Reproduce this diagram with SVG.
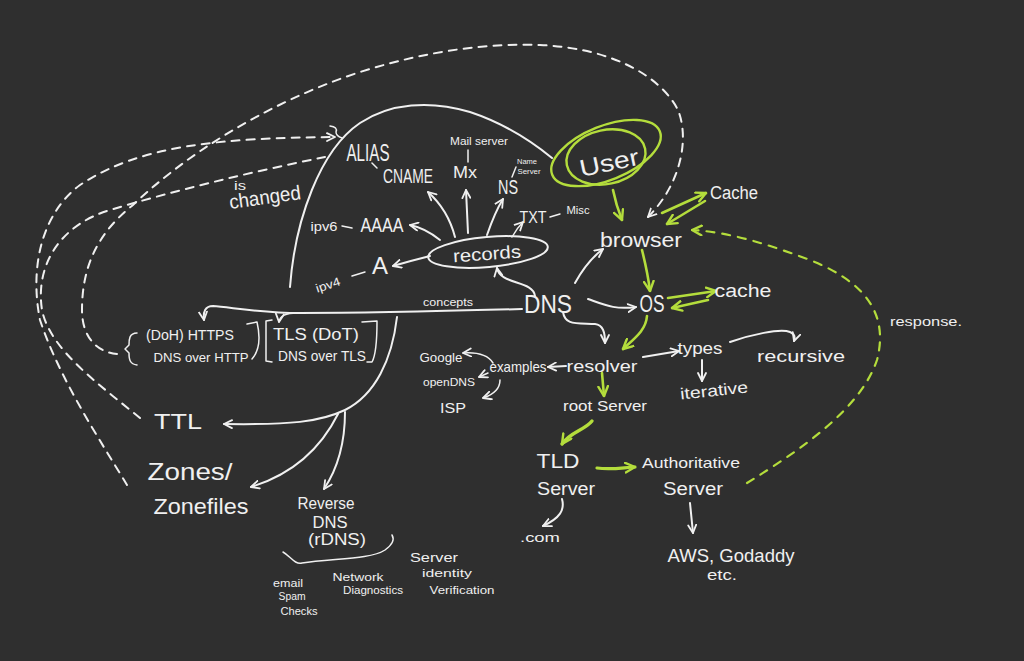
<svg xmlns="http://www.w3.org/2000/svg" width="1024" height="661" viewBox="0 0 1024 661">
<defs>
<style>
.t{font-family:"Liberation Sans",Arial,sans-serif;fill:#f0f0f0;text-anchor:middle}
.ln{fill:none;stroke:#f0f0f0;stroke-width:2;stroke-linecap:round;stroke-linejoin:round}
.thin{stroke-width:1.5}
.dash{stroke-dasharray:8 7}
.g{fill:none;stroke:#b4dd3c;stroke-width:2.6;stroke-linecap:round;stroke-linejoin:round}
.gd{stroke-dasharray:8 8;stroke-width:2.2}
</style>
<marker id="aw" viewBox="0 0 10 10" refX="9" refY="5" markerWidth="10" markerHeight="10" markerUnits="userSpaceOnUse" orient="auto">
<path d="M1,1 L9,5 L1,9" fill="none" stroke="#f0f0f0" stroke-width="1.8" stroke-linecap="round" stroke-linejoin="round"/>
</marker>
<marker id="ag" viewBox="0 0 10 10" refX="9" refY="5" markerWidth="12" markerHeight="12" markerUnits="userSpaceOnUse" orient="auto">
<path d="M1,1 L9,5 L1,9" fill="none" stroke="#b4dd3c" stroke-width="2" stroke-linecap="round" stroke-linejoin="round"/>
</marker>
</defs>
<rect width="1024" height="661" fill="#2f2f2f"/>

<g id="connectors">
<!-- dashed white loops -->
<path class="ln dash" d="M117,354 C 95,352 82,335 82,310 C 82,270 95,235 133,205 C 180,160 260,105 360,72 C 430,50 490,43 540,45 C 610,48 660,75 678,110 C 690,140 680,185 648,217" marker-end="url(#aw)"/>
<path class="ln dash" d="M127,485 C 100,440 60,380 40,320 C 30,270 40,215 80,185 C 140,145 220,138 335,137" marker-end="url(#aw)"/>
<path class="ln thin" d="M330,126 Q338,127 336,132 Q336,136 342,138"/>
<path class="ln dash" d="M140,418 C 100,385 50,350 42,310 C 35,265 60,225 110,210 C 170,192 250,172 325,157"/>
<!-- big arc -->
<path class="ln" d="M290,287 C 295,220 320,150 360,123 C 390,103 430,100 470,112 C 500,122 530,140 552,158"/>
<!-- concepts line -->
<path class="ln" d="M522,309 C 450,311 350,313 300,313 C 260,313 230,307 213,306 C 205,306 203,312 204,320" marker-end="url(#aw)"/>
<path class="ln thin" d="M297,313 Q280,313 279,322" marker-end="url(#aw)"/>
<!-- lower arc -->
<path class="ln" d="M397,317 C 392,360 375,395 345,410 C 320,422 290,425 224,424" marker-end="url(#aw)"/>
<path class="ln" d="M338,414 C 320,450 290,475 251,487" marker-end="url(#aw)"/>
<path class="ln" d="M345,412 C 345,440 340,465 324,489" marker-end="url(#aw)"/>
<!-- rDNS brace -->
<path class="ln thin" d="M283,552 C 290,556 295,565 302,563 C 330,558 370,560 385,550 C 392,545 395,540 392,535"/>
<!-- records arrows -->
<path class="ln" d="M430,256 Q410,261 393,266" marker-end="url(#aw)"/>
<path class="ln" d="M440,240 Q425,228 410,225" marker-end="url(#aw)"/>
<path class="ln" d="M455,237 Q448,210 428,192" marker-end="url(#aw)"/>
<path class="ln" d="M468,233 L466,190" marker-end="url(#aw)"/>
<path class="ln" d="M487,235 Q495,212 503,199" marker-end="url(#aw)"/>
<path class="ln thin" d="M512,237 Q517,228 523,222" marker-end="url(#aw)"/>
<path class="ln thin" d="M372,163 L377,168"/>
<path class="ln thin" d="M468,150 L468,162"/>
<path class="ln thin" d="M516,167 L512,177"/>
<path class="ln thin" d="M342,226 L352,228"/>
<path class="ln thin" d="M352,276 L365,272"/>
<path class="ln thin" d="M550,217 L560,214"/>
<!-- DNS arrows -->
<path class="ln" d="M535,296 C 533,280 500,285 497,268" marker-end="url(#aw)"/>
<path class="ln" d="M575,283 C 585,265 595,255 603,249" marker-end="url(#aw)"/>
<path class="ln" d="M588,299 C 605,305 615,310 636,307" marker-end="url(#aw)"/>
<path class="ln" d="M563,312 C 565,325 575,323 595,324 C 603,325 605,332 605,343" marker-end="url(#aw)"/>
<!-- resolver area white -->
<path class="ln" d="M643,357 L679,351" marker-end="url(#aw)"/>
<path class="ln" d="M730,342 C 750,335 780,328 790,332 C 795,334 795,338 794,341" marker-end="url(#aw)"/>
<path class="ln" d="M702,360 L702,381" marker-end="url(#aw)"/>
<path class="ln" d="M566,366 L548,367" marker-end="url(#aw)"/>
<path class="ln thin" d="M493,363 C 488,355 478,352 463,353" marker-end="url(#aw)"/>
<path class="ln thin" d="M488,373 L479,377" marker-end="url(#aw)"/>
<path class="ln thin" d="M500,380 C 500,390 492,395 483,398" marker-end="url(#aw)"/>
<path class="ln" d="M562,499 C 565,510 560,518 543,526" marker-end="url(#aw)"/>
<path class="ln" d="M690,503 L693,533" marker-end="url(#aw)"/>
<!-- green -->
<path class="g" d="M613,190 C 615,200 618,210 622,220" marker-end="url(#ag)"/>
<path class="g" d="M662,213 L706,193" marker-end="url(#ag)"/>
<path class="g" d="M705,201 L667,224" marker-end="url(#ag)"/>
<path class="g" d="M642,250 C 645,262 648,275 650,291" marker-end="url(#ag)"/>
<path class="g" d="M668,298 L716,291" marker-end="url(#ag)"/>
<path class="g" d="M708,300 L672,308" marker-end="url(#ag)"/>
<path class="g" d="M647,316 C 646,330 635,338 623,349" marker-end="url(#ag)"/>
<path class="g" d="M602,373 L604,396" marker-end="url(#ag)"/>
<path class="g" style="stroke-width:3.4" d="M592,421 C 585,430 570,432 562,444" marker-end="url(#ag)"/>
<path class="g" style="stroke-width:3.2" d="M597,468 C 610,470 620,468 635,467" marker-end="url(#ag)"/>
<path class="g gd" d="M747,483 C 800,450 860,410 877,360 C 890,310 860,280 810,260 C 770,245 730,232 692,230" marker-end="url(#ag)"/>
</g>

<g id="node-user">
<ellipse cx="606" cy="153" rx="58" ry="27" transform="rotate(-22 606 153)" fill="none" stroke="#b4dd3c" stroke-width="2.4"/>
<ellipse cx="606" cy="157" rx="40" ry="27" transform="rotate(-12 606 157)" fill="none" stroke="#b4dd3c" stroke-width="2.4"/>
<text class="t" x="609" y="171" font-size="24" textLength="60" lengthAdjust="spacingAndGlyphs" transform="rotate(-12 609 162)">User</text>
</g>
<g id="node-browser"><text class="t" x="641" y="247" font-size="21" textLength="82" lengthAdjust="spacingAndGlyphs">browser</text></g>
<g id="node-cache1"><text class="t" x="734" y="199" font-size="18" textLength="48" lengthAdjust="spacingAndGlyphs">Cache</text></g>
<g id="node-os"><text class="t" x="652" y="312" font-size="24" textLength="25" lengthAdjust="spacingAndGlyphs">OS</text></g>
<g id="node-cache2"><text class="t" x="743" y="297" font-size="18" textLength="57" lengthAdjust="spacingAndGlyphs">cache</text></g>
<g id="node-dns"><text class="t" x="548" y="313" font-size="26" textLength="48" lengthAdjust="spacingAndGlyphs">DNS</text></g>
<g id="node-concepts"><text class="t" x="448" y="306" font-size="11" textLength="50" lengthAdjust="spacingAndGlyphs">concepts</text></g>

<g id="node-records">
<ellipse cx="488" cy="252" rx="60" ry="15" transform="rotate(-5 488 252)" fill="none" stroke="#f0f0f0" stroke-width="2"/>
<text class="t" x="487" y="260" font-size="18" textLength="68" lengthAdjust="spacingAndGlyphs" transform="rotate(-4 487 254)">records</text>
</g>
<g id="node-a">
<text class="t" x="380" y="274" font-size="24" textLength="16" lengthAdjust="spacingAndGlyphs">A</text>
<text class="t" x="328" y="289" font-size="12" textLength="25" lengthAdjust="spacingAndGlyphs" transform="rotate(-18 328 285)">ipv4</text>
</g>
<g id="node-aaaa">
<text class="t" x="382" y="232" font-size="21" textLength="43" lengthAdjust="spacingAndGlyphs">AAAA</text>
<text class="t" x="324" y="231" font-size="12" textLength="27" lengthAdjust="spacingAndGlyphs">ipv6</text>
</g>
<g id="node-cname">
<text class="t" x="408" y="183" font-size="20" textLength="50" lengthAdjust="spacingAndGlyphs">CNAME</text>
<text class="t" x="368" y="161" font-size="24" textLength="43" lengthAdjust="spacingAndGlyphs">ALIAS</text>
</g>
<g id="node-mx">
<text class="t" x="465" y="178" font-size="17" textLength="24" lengthAdjust="spacingAndGlyphs">Mx</text>
<text class="t" x="479" y="145" font-size="10" textLength="58" lengthAdjust="spacingAndGlyphs">Mail server</text>
</g>
<g id="node-ns">
<text class="t" x="508" y="194" font-size="20" textLength="20" lengthAdjust="spacingAndGlyphs">NS</text>
<text class="t" x="527" y="164" font-size="8" textLength="20" lengthAdjust="spacingAndGlyphs">Name</text>
<text class="t" x="529" y="174" font-size="8" textLength="23" lengthAdjust="spacingAndGlyphs">Server</text>
</g>
<g id="node-txt">
<text class="t" x="533" y="223" font-size="16" textLength="27" lengthAdjust="spacingAndGlyphs">TXT</text>
<text class="t" x="578" y="214" font-size="11" textLength="23" lengthAdjust="spacingAndGlyphs">Misc</text>
</g>
<g id="node-changed">
<text class="t" x="240" y="190" font-size="12" textLength="12" lengthAdjust="spacingAndGlyphs">is</text>
<text class="t" x="265" y="204" font-size="20" textLength="72" lengthAdjust="spacingAndGlyphs" transform="rotate(-8 265 198)">changed</text>
</g>

<g id="node-doh">
<path class="ln thin" d="M137,333 C 129,333 129,340 129,345 L125,349 L129,353 C 129,360 130,364 137,365"/>
<text class="t" x="190" y="340" font-size="14" textLength="88" lengthAdjust="spacingAndGlyphs">(DoH) HTTPS</text>
<text class="t" x="201" y="362" font-size="12" textLength="95" lengthAdjust="spacingAndGlyphs">DNS over HTTP</text>
<path class="ln thin" d="M247,324 L257,322 C 260,335 260,350 252,359"/>
</g>
<g id="node-dot">
<path class="ln thin" d="M272,320 L266,321 L266,361 L272,362"/>
<text class="t" x="316" y="340" font-size="16" textLength="86" lengthAdjust="spacingAndGlyphs">TLS (DoT)</text>
<text class="t" x="322" y="361" font-size="14" textLength="88" lengthAdjust="spacingAndGlyphs">DNS over TLS</text>
<path class="ln thin" d="M362,322 L377,321 C 377,340 376,355 372,362 L367,362"/>
</g>
<g id="node-ttl"><text class="t" x="178" y="429" font-size="22" textLength="48" lengthAdjust="spacingAndGlyphs">TTL</text></g>
<g id="node-zones">
<text class="t" x="190" y="480" font-size="24" textLength="85" lengthAdjust="spacingAndGlyphs">Zones/</text>
<text class="t" x="201" y="514" font-size="22" textLength="95" lengthAdjust="spacingAndGlyphs">Zonefiles</text>
</g>
<g id="node-rdns">
<text class="t" x="326" y="509" font-size="16" textLength="57" lengthAdjust="spacingAndGlyphs">Reverse</text>
<text class="t" x="330" y="528" font-size="16" textLength="35" lengthAdjust="spacingAndGlyphs">DNS</text>
<text class="t" x="337" y="545" font-size="16" textLength="58" lengthAdjust="spacingAndGlyphs">(rDNS)</text>
</g>
<g id="node-email">
<text class="t" x="288" y="587" font-size="10" textLength="30" lengthAdjust="spacingAndGlyphs">email</text>
<text class="t" x="292" y="600" font-size="10" textLength="27" lengthAdjust="spacingAndGlyphs">Spam</text>
<text class="t" x="299" y="615" font-size="10" textLength="37" lengthAdjust="spacingAndGlyphs">Checks</text>
</g>
<g id="node-network">
<text class="t" x="358" y="581" font-size="11" textLength="51" lengthAdjust="spacingAndGlyphs">Network</text>
<text class="t" x="373" y="594" font-size="11" textLength="60" lengthAdjust="spacingAndGlyphs">Diagnostics</text>
</g>
<g id="node-server-id">
<text class="t" x="434" y="562" font-size="12" textLength="48" lengthAdjust="spacingAndGlyphs">Server</text>
<text class="t" x="447" y="577" font-size="11" textLength="50" lengthAdjust="spacingAndGlyphs">identity</text>
<text class="t" x="462" y="594" font-size="11" textLength="65" lengthAdjust="spacingAndGlyphs">Verification</text>
</g>

<g id="node-resolver"><text class="t" x="602" y="372" font-size="17" textLength="71" lengthAdjust="spacingAndGlyphs">resolver</text></g>
<g id="node-types"><text class="t" x="700" y="354" font-size="17" textLength="45" lengthAdjust="spacingAndGlyphs">types</text></g>
<g id="node-recursive"><text class="t" x="801" y="362" font-size="17" textLength="88" lengthAdjust="spacingAndGlyphs">recursive</text></g>
<g id="node-iterative"><text class="t" x="714" y="396" font-size="16" textLength="68" lengthAdjust="spacingAndGlyphs" transform="rotate(-6 714 390)">iterative</text></g>
<g id="node-examples"><text class="t" x="518" y="372" font-size="15" textLength="57" lengthAdjust="spacingAndGlyphs">examples</text></g>
<g id="node-google"><text class="t" x="441" y="362" font-size="12" textLength="43" lengthAdjust="spacingAndGlyphs">Google</text></g>
<g id="node-opendns"><text class="t" x="449" y="386" font-size="11" textLength="52" lengthAdjust="spacingAndGlyphs">openDNS</text></g>
<g id="node-isp"><text class="t" x="453" y="413" font-size="14" textLength="26" lengthAdjust="spacingAndGlyphs">ISP</text></g>
<g id="node-root"><text class="t" x="605" y="411" font-size="15" textLength="84" lengthAdjust="spacingAndGlyphs">root Server</text></g>
<g id="node-tld">
<text class="t" x="558" y="468" font-size="21" textLength="43" lengthAdjust="spacingAndGlyphs">TLD</text>
<text class="t" x="566" y="495" font-size="18" textLength="58" lengthAdjust="spacingAndGlyphs">Server</text>
</g>
<g id="node-com"><text class="t" x="540" y="542" font-size="13" textLength="40" lengthAdjust="spacingAndGlyphs">.com</text></g>
<g id="node-auth">
<text class="t" x="691" y="468" font-size="15" textLength="98" lengthAdjust="spacingAndGlyphs">Authoritative</text>
<text class="t" x="693" y="495" font-size="18" textLength="60" lengthAdjust="spacingAndGlyphs">Server</text>
</g>
<g id="node-aws">
<text class="t" x="731" y="562" font-size="19" textLength="127" lengthAdjust="spacingAndGlyphs">AWS, Godaddy</text>
<text class="t" x="722" y="580" font-size="14" textLength="30" lengthAdjust="spacingAndGlyphs">etc.</text>
</g>
<g id="node-response"><text class="t" x="926" y="326" font-size="13" textLength="72" lengthAdjust="spacingAndGlyphs">response.</text></g>
</svg>
